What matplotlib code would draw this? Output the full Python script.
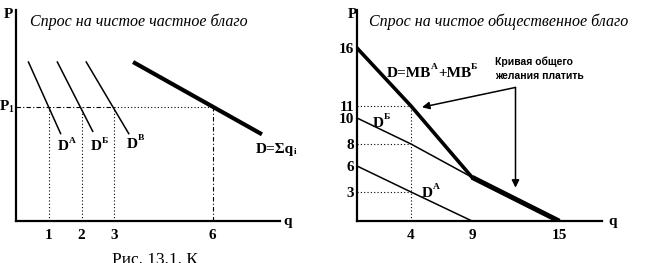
import numpy as np
import matplotlib
matplotlib.use("Agg")
import matplotlib.pyplot as plt

# ---------------- data: left panel (pure private good) ----------------
left_title = "Спрос на чистое частное благо"
qA_L = [0.37, 1.37]; pA_L = [7.0, 3.8]
qB_L = [1.25, 2.35]; pB_L = [7.0, 3.9]
qV_L = [2.13, 3.45]; pV_L = [7.0, 3.8]
qD_L = [3.57, 7.5];  pD_L = [6.97, 3.8]
P1 = 5.0
q_ind = [1, 2, 3]
q_tot = 6
left_xticks = [1, 2, 3, 6]

# ---------------- data: right panel (pure public good) ----------------
right_title = "Спрос на чистое общественное благо"
qA_R = [0, 4, 9];      pA_R = [6, 3, 0]
qB_R = [0, 4, 9, 15];  pB_R = [10, 8, 4.7, 0]
qD_R = [0, 4, 9, 15];  pD_R = [16, 11, 4.7, 0]
right_xticks = [4, 9, 15]
right_yticks = [3, 6, 8, 10, 11, 16]
q_mark = 4
p_marks = [11, 8, 3]
note_text = "Кривая общего\nжелания платить"
caption = "Рис. 13.1. К"

# ---------------- layout ----------------
W, H = 648, 263
fig = plt.figure(figsize=(W / 100, H / 100), dpi=100)
SERIF = "Liberation Serif"

def fx(px):
    return px / W

def fy(py):
    return 1 - py / H

def rich(ax, x, y, parts, size=11):
    r = fig.canvas.get_renderer()
    off = 0.0
    for s, kind in parts:
        if kind == "sup":
            fs, dy = size * 0.62, size * 0.5
        elif kind == "sub":
            fs, dy = size * 0.62, -size * 0.1
        else:
            fs, dy = size, 0
        t = ax.annotate(s, xy=(x, y), xytext=(off, dy), textcoords="offset points",
                        fontsize=fs, fontweight="bold", family=SERIF,
                        ha="left", va="baseline", annotation_clip=False)
        bb = t.get_window_extent(r)
        off += bb.width * 72 / fig.dpi

def style_axes(ax):
    for s in ("top", "right"):
        ax.spines[s].set_visible(False)
    for s in ("left", "bottom"):
        ax.spines[s].set_linewidth(1.6)
    ax.tick_params(length=0)
    for lab in ax.get_xticklabels() + ax.get_yticklabels():
        lab.set_family(SERIF)
        lab.set_fontweight("bold")
        lab.set_fontsize(11)

# ---------------- left panel ----------------
axL = fig.add_axes([fx(16), fy(221), (280 - 16) / W, (221 - 10) / H])
axL.set_xlim(0, 8.05)
axL.set_ylim(0, 9.25)
axL.set_xticks(left_xticks)
axL.set_xticklabels([str(v) for v in left_xticks])
axL.set_yticks([])
axL.tick_params(axis="x", pad=6)
style_axes(axL)

dot = (0, (1, 2))
axL.plot([0, q_ind[-1]], [P1, P1], color="k", lw=0.8, ls=(0, (4, 2, 1, 2)))
axL.plot([q_ind[-1], q_tot], [P1, P1], color="k", lw=0.8, ls=dot)
for q in q_ind:
    axL.plot([q, q], [0, P1], color="k", lw=0.8, ls=dot)
axL.plot([q_tot, q_tot], [0, P1], color="k", lw=0.8, ls=(0, (4, 2, 1, 2)))

for qq, pp in ((qA_L, pA_L), (qB_L, pB_L), (qV_L, pV_L)):
    axL.plot(qq, pp, color="k", lw=1.1, solid_capstyle="butt")
axL.plot(qD_L, pD_L, color="k", lw=3.0, solid_capstyle="butt")

rich(axL, 1.28, 3.1, [("D", "n"), ("A", "sup")])
rich(axL, 2.29, 3.1, [("D", "n"), ("Б", "sup")])
rich(axL, 3.38, 3.2, [("D", "n"), ("В", "sup")])
rich(axL, 7.32, 3.0, [("D=Σq", "n"), ("i", "sub")])

fig.text(fx(30), fy(26), left_title, family=SERIF, style="italic",
         fontsize=11.5, ha="left", va="baseline")
fig.text(fx(4), fy(15), "P", family=SERIF, fontweight="bold", fontsize=11,
         ha="left", va="center")
fig.text(fx(0), fy(107), "P", family=SERIF, fontweight="bold", fontsize=11,
         ha="left", va="center")
fig.text(fx(8), fy(110), "1", family=SERIF, fontweight="bold", fontsize=7,
         ha="left", va="center")
fig.text(fx(283), fy(222), "q", family=SERIF, fontweight="bold", fontsize=11,
         ha="left", va="center")

# ---------------- right panel ----------------
xv = [-100, 0, 4, 9, 15, 18, 100]
xp = [-1350, 0, 54, 115, 202, 245, 245 + 82 * 14.3]
yv = [-100, 0, 3, 6, 8, 10, 11, 16, 19.3, 100]
yp = [-970, 0, 29, 55, 77, 103, 115, 173, 211, 211 + 80.7 * 11.6]

def xf(v):
    return np.interp(v, xv, xp)

def xi(p):
    return np.interp(p, xp, xv)

def yf(v):
    return np.interp(v, yv, yp)

def yi(p):
    return np.interp(p, yp, yv)

axR = fig.add_axes([fx(357), fy(221), (602 - 357) / W, (221 - 10) / H])
axR.set_xscale("function", functions=(xf, xi))
axR.set_yscale("function", functions=(yf, yi))
axR.set_xlim(0, 18)
axR.set_ylim(0, 19.3)
axR.set_xticks(right_xticks)
axR.set_xticklabels([str(v) for v in right_xticks])
axR.set_yticks(right_yticks)
axR.set_yticklabels([str(v) for v in right_yticks])
axR.minorticks_off()
axR.tick_params(axis="x", pad=6)
axR.tick_params(axis="y", pad=2)
style_axes(axR)

for p in p_marks:
    axR.plot([0, q_mark], [p, p], color="k", lw=0.8, ls=dot)
axR.plot([q_mark, q_mark], [0, p_marks[0]], color="k", lw=0.8, ls=dot)

axR.plot(qA_R, pA_R, color="k", lw=1.1)
axR.plot(qB_R, pB_R, color="k", lw=1.1)
axR.plot(qD_R, pD_R, color="k", lw=2.6, solid_joinstyle="miter")
axR.plot(qD_R[2:], pD_R[2:], color="k", lw=3.6, solid_capstyle="butt")

rich(axR, 2.2, 13.5, [("D=MB", "n"), ("A", "sup"), ("+MB", "n"), ("Б", "sup")])
rich(axR, 1.2, 9.3, [("D", "n"), ("Б", "sup")])
rich(axR, 4.9, 2.5, [("D", "n"), ("A", "sup")])

arrow = dict(arrowstyle="-|>", lw=1.1, color="k", mutation_scale=11,
             shrinkA=0, shrinkB=0)
axR.annotate("", xy=(4.9, 10.9), xytext=(12.0, 12.6), arrowprops=arrow,
             annotation_clip=False)
axR.annotate("", xy=(12.0, 3.5), xytext=(12.0, 12.6), arrowprops=arrow,
             annotation_clip=False)
axR.text(10.6, 15.3, note_text, family=["Liberation Sans Narrow", "Liberation Sans"],
         fontweight="bold", fontsize=7.5, ha="left", va="top", linespacing=1.55)

fig.text(fx(369), fy(26), right_title, family=SERIF, style="italic",
         fontsize=11.5, ha="left", va="baseline")
fig.text(fx(348), fy(15), "P", family=SERIF, fontweight="bold", fontsize=11,
         ha="left", va="center")
fig.text(fx(608), fy(222), "q", family=SERIF, fontweight="bold", fontsize=11,
         ha="left", va="center")

fig.text(fx(112), fy(252), caption, family=SERIF, fontsize=12.5,
         ha="left", va="top")

fig.savefig("out.png", dpi=100)
